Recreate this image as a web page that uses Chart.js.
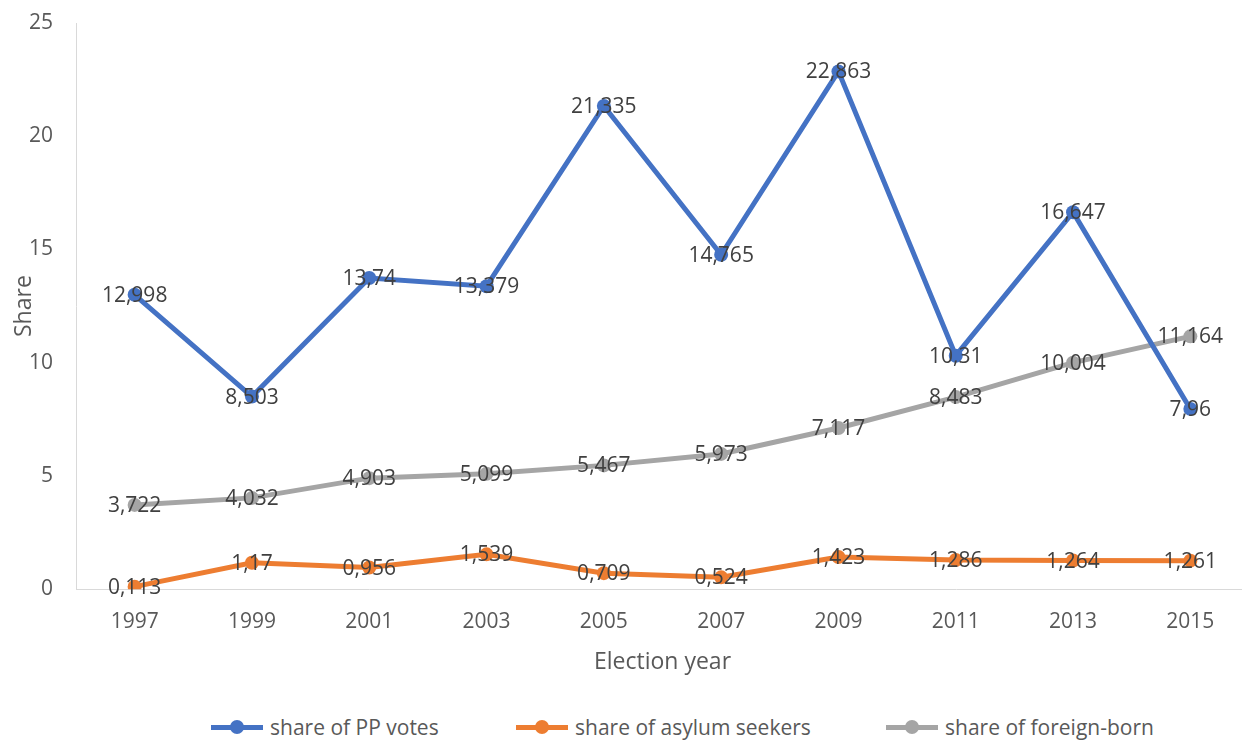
<!DOCTYPE html>
<html lang="en">
<head>
  <meta charset="UTF-8">
  <title>Share by election year</title>
  <script src="https://cdn.jsdelivr.net/npm/chart.js"></script>
  <style>
    body { margin: 0; overflow: hidden; background: #fff; font-family: "Open Sans", sans-serif; }
    #wrap { position: relative; width: 1256px; height: 680px; }
    .item { position: absolute; top: 713px; display: flex; align-items: center; gap: 7px; font-size: 21px; color: #595959; white-space: nowrap; }
    .mark { position: relative; width: 52px; height: 5px; }
    .mark i { position: absolute; left: 19px; top: -5px; width: 14px; height: 14px; border-radius: 50%; }
  </style>
</head>
<body>
  <div id="wrap">
    <canvas id="shareChart"></canvas>
  </div>
  <div id="legend"></div>

  <script>
    const years = ['1997', '1999', '2001', '2003', '2005', '2007', '2009', '2011', '2013', '2015'];
    const ppVotes = [12.998, 8.503, 13.74, 13.379, 21.335, 14.765, 22.863, 10.31, 16.647, 7.96];
    const asylumSeekers = [0.113, 1.17, 0.956, 1.539, 0.709, 0.524, 1.423, 1.286, 1.264, 1.261];
    const foreignBorn = [3.722, 4.032, 4.903, 5.099, 5.467, 5.973, 7.117, 8.483, 10.004, 11.164];
    const seriesNames = ['share of PP votes', 'share of asylum seekers', 'share of foreign-born'];
    const colors = ['#4472C4', '#ED7D31', '#A5A5A5'];
    const legendLeft = [211, 516, 886];

    const font = { family: '"Open Sans", sans-serif', size: 21 };
    const titleFont = { family: '"Open Sans", sans-serif', size: 23 };

    function makeSet(i, values) {
      return {
        label: seriesNames[i],
        data: values,
        borderColor: colors[i],
        backgroundColor: colors[i],
        borderWidth: 5,
        pointRadius: 7,
        pointBorderWidth: 0,
        tension: 0
      };
    }

    // labels centred on the points, like Excel "center"
    const valueLabels = {
      id: 'valueLabels',
      afterDatasetsDraw(chart) {
        const ctx = chart.ctx;
        ctx.save();
        ctx.font = '21px "Open Sans", sans-serif';
        ctx.fillStyle = '#404040';
        ctx.textAlign = 'center';
        ctx.textBaseline = 'middle';
        chart.data.datasets.forEach((ds, i) => {
          chart.getDatasetMeta(i).data.forEach((pt, j) => {
            ctx.fillText(String(ds.data[j]).replace('.', ','), pt.x, pt.y + 1);
          });
        });
        ctx.restore();
      }
    };

    new Chart(document.getElementById('shareChart'), {
      type: 'line',
      data: {
        labels: years,
        datasets: [makeSet(0, ppVotes), makeSet(1, asylumSeekers), makeSet(2, foreignBorn)]
      },
      options: {
        responsive: true,
        maintainAspectRatio: false,
        animation: false,
        layout: { padding: { top: 23, left: 11, right: 3, bottom: 4 } },
        plugins: {
          legend: { display: false },
          tooltip: { enabled: false }
        },
        scales: {
          x: {
            offset: true,
            grid: { display: false, drawTicks: false },
            border: { color: '#d9d9d9', width: 1 },
            ticks: { color: '#595959', font: font, padding: 20 },
            title: { display: true, text: 'Election year', color: '#595959', font: titleFont, padding: { top: -6, bottom: 0 } }
          },
          y: {
            min: 0,
            max: 25,
            grid: { display: false, drawTicks: false },
            border: { color: '#d9d9d9', width: 1 },
            ticks: { stepSize: 5, color: '#595959', font: font, padding: 23 },
            title: { display: true, text: 'Share', color: '#595959', font: titleFont, padding: 0 },
            afterFit(scale) {
              scale.width = 65;
              scale.paddingTop = 0;
              scale.paddingBottom = 0;
            }
          }
        }
      },
      plugins: [valueLabels]
    });

    const legend = document.getElementById('legend');
    seriesNames.forEach((name, i) => {
      const item = document.createElement('div');
      item.className = 'item';
      item.style.left = legendLeft[i] + 'px';
      item.innerHTML = '<span class="mark" style="background:' + colors[i] + '"><i style="background:' + colors[i] + '"></i></span><span>' + name + '</span>';
      legend.appendChild(item);
    });
  </script>
</body>
</html>
